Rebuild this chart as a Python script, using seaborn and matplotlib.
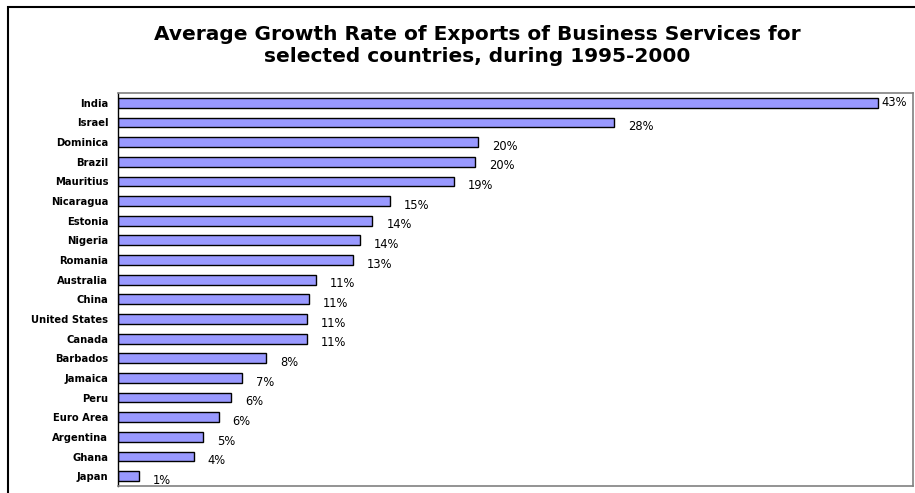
import matplotlib
matplotlib.use("Agg")
import matplotlib.pyplot as plt
import seaborn as sns
import pandas as pd
import numpy as np
from matplotlib.patches import Rectangle

# Average growth rate of business services exports, 1995-2000 (%)
countries = ['India', 'Israel', 'Dominica', 'Brazil', 'Mauritius', 'Nicaragua',
             'Estonia', 'Nigeria', 'Romania', 'Australia', 'China', 'United States',
             'Canada', 'Barbados', 'Jamaica', 'Peru', 'Euro Area', 'Argentina',
             'Ghana', 'Japan']
growth = [43.0, 28.1, 20.4, 20.2, 19.0, 15.4, 14.4, 13.7, 13.3, 11.2, 10.8, 10.7,
          10.7, 8.4, 7.0, 6.4, 5.7, 4.8, 4.3, 1.2]

df = pd.DataFrame({'Country': countries, 'Growth': growth})

sns.set_style('white')
plt.rcParams['font.family'] = ['DejaVu Sans']

fig = plt.figure(figsize=(9.15, 4.93), dpi=100)
ax = fig.add_axes([118 / 915, 1 - 486 / 493, 795 / 915, 393 / 493])

sns.barplot(data=df, y='Country', x='Growth', orient='h', color='#9999FF',
            saturation=1, edgecolor='black', linewidth=1, width=0.5, ax=ax)

ax.set_xlim(0, 45)
ax.set_ylim(len(countries) - 0.5, -0.5)
ax.set_xlabel('')
ax.set_ylabel('')
ax.set_xticks([])

# labels at category centers without ticks, ticks at boundaries
ax.tick_params(axis='y', which='major', length=0, pad=7)
ax.set_yticks(np.arange(-0.5, len(countries), 1), minor=True)
ax.tick_params(axis='y', which='minor', length=4, width=1, color='black', direction='out')
for lbl in ax.get_yticklabels():
    lbl.set_fontsize(7.2)
    lbl.set_fontweight('bold')
    lbl.set_color('black')

for side in ['top', 'right', 'bottom']:
    ax.spines[side].set_color('#808080')
    ax.spines[side].set_linewidth(1.2)
ax.spines['left'].set_color('black')
ax.spines['left'].set_linewidth(1)

top = max(growth)
for i, v in enumerate(growth):
    # the longest bar's label sits tight against the bar to stay inside the frame
    off = (3, 0) if v == top else (10, -3)
    ax.annotate(f'{v:.0f}%', xy=(v, i), xytext=off, textcoords='offset points',
                va='center', ha='left', fontsize=8.3, color='black')

fig.text(0.522, 1 - 45 / 493, 'Average Growth Rate of Exports of Business Services for\nselected countries, during 1995-2000',
         ha='center', va='center', fontsize=14.5, fontweight='bold', linespacing=1.2,
         color='black')

# outer chart frame
fig.patches.append(Rectangle((8 / 915, -0.05), 1.0, 1 - 7 / 493 + 0.05,
                             transform=fig.transFigure, fill=False,
                             edgecolor='black', linewidth=1.5))

fig.savefig('out.png', dpi=100)
